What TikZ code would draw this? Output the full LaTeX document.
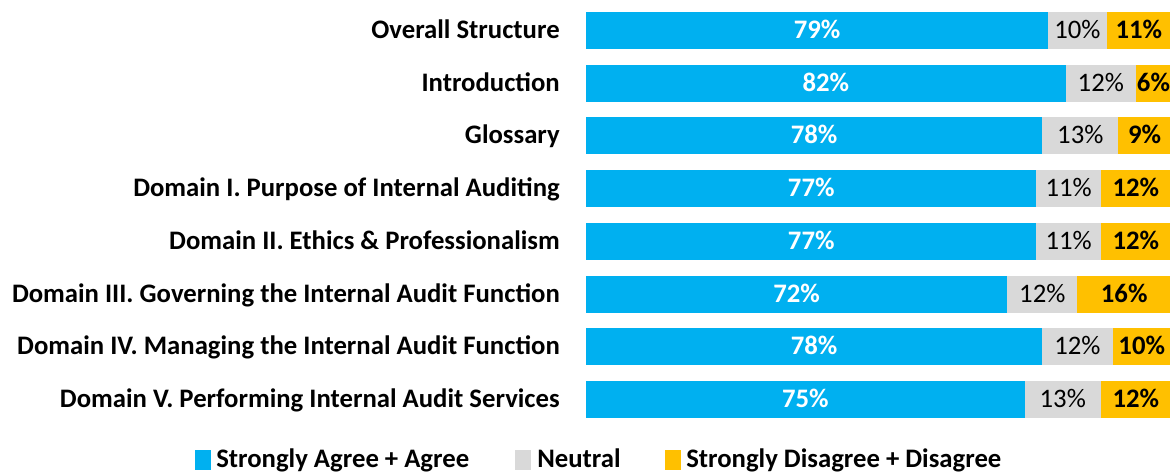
\documentclass[tikz,border=0pt]{standalone}
\usepackage{fontspec}
\setmainfont{Carlito}

\definecolor{agree}{HTML}{00B0F0}
\definecolor{neutral}{HTML}{D9D9D9}
\definecolor{disagree}{HTML}{FFC000}

\tikzset{
  rowlabel/.style={anchor=base east, inner sep=0pt, font=\bfseries\fontsize{19}{22}\selectfont},
  pctlabel/.style={anchor=base, inner sep=0pt, font=\fontsize{19}{22}\selectfont},
  legendbox/.style={minimum width=11, minimum height=14, inner sep=0pt},
  legendtext/.style={anchor=base west, inner sep=0pt, font=\bfseries\fontsize{19}{22}\selectfont}
}

\begin{document}
\begin{tikzpicture}[x=0.025cm, y=-0.025cm]
  % Frame
  \useasboundingbox (0,0) rectangle (1170,474);

  % Bars
  \foreach \i/\name/\a/\n/\d in {
      1/Overall Structure/79/10/11,
      2/Introduction/82/12/6,
      3/Glossary/78/13/9,
      4/Domain I. Purpose of Internal Auditing/77/11/12,
      5/Domain II. Ethics \& Professionalism/77/11/12,
      6/Domain III. Governing the Internal Audit Function/72/12/16,
      7/Domain IV. Managing the Internal Audit Function/78/12/10,
      8/Domain V. Performing Internal Audit Services/75/13/12}{
    \pgfmathsetmacro{\y}{30.5+52.7*(\i-1)}
    \pgfmathsetmacro{\xa}{586+5.85*\a}
    \pgfmathsetmacro{\xn}{\xa+5.85*\n}
    \pgfmathsetmacro{\xd}{\xn+5.85*\d}
    \fill[agree] (586,\y-18.5) rectangle (\xa,\y+18.5);
    \fill[neutral] (\xa,\y-18.5) rectangle (\xn,\y+18.5);
    \fill[disagree] (\xn,\y-18.5) rectangle (\xd,\y+18.5);
    \node[rowlabel] (row\i) at (560,\y+8) {\name};
    \node[pctlabel, white, font=\bfseries\fontsize{19}{22}\selectfont] (agree\i) at ({(586+\xa)/2},\y+8) {\a\%};
    \node[pctlabel] (neutral\i) at ({(\xa+\xn)/2},\y+8) {\n\%};
    \node[pctlabel, font=\bfseries\fontsize{19}{22}\selectfont] (disagree\i) at ({(\xn+\xd)/2},\y+8) {\d\%};
  }

  % Legend
  \node[legendbox, fill=agree] (keyagree) at (203,460) {};
  \node[legendtext] (txtagree) at (216,467) {Strongly Agree + Agree};
  \node[legendbox, fill=neutral] (keyneutral) at (523,460) {};
  \node[legendtext] (txtneutral) at (537,467) {Neutral};
  \node[legendbox, fill=disagree] (keydisagree) at (673,460) {};
  \node[legendtext] (txtdisagree) at (686,467) {Strongly Disagree + Disagree};
\end{tikzpicture}
\end{document}
